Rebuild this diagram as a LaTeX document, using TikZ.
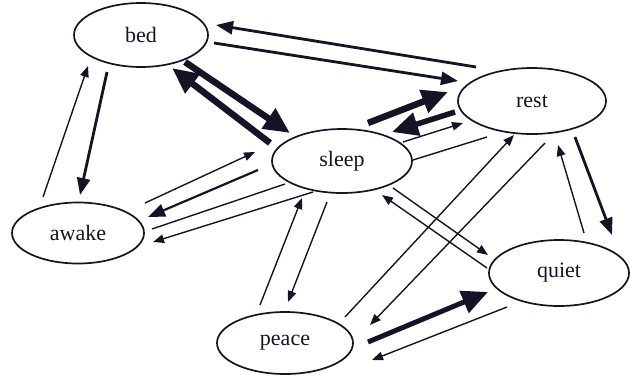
\documentclass[tikz,border=0pt]{standalone}
\usepackage{fontspec}
\setmainfont{Liberation Serif}
\usetikzlibrary{arrows.meta,shapes.geometric}
\definecolor{ink}{HTML}{141426}
\tikzset{
  state/.style={ellipse,draw=ink,line width=1.7pt,inner sep=0pt,font=\fontsize{22}{25}\selectfont,text=ink},
  thinarr/.style={draw=ink,line width=1.4pt,-{Triangle[length=11pt,width=8.5pt]}},
  medarr/.style={draw=ink,line width=2.8pt,-{Triangle[length=17pt,width=13pt]}},
  bigarr/.style={draw=ink,line width=6.5pt,-{Triangle[length=26pt,width=23pt]}},
  plainln/.style={draw=ink,line width=1.4pt}
}
\begin{document}
\begin{tikzpicture}[x=1pt,y=-1pt]
\useasboundingbox (0,0) rectangle (630,381);
\node[state,minimum width=134pt,minimum height=64pt] (bed) at (141,35) {bed};
\node[state,minimum width=148pt,minimum height=66pt] (rest) at (532,101) {rest};
\node[state,minimum width=140pt,minimum height=64pt] (sleep) at (342,161) {sleep};
\node[state,minimum width=132pt,minimum height=61pt] (awake) at (78,233) {awake};
\node[state,minimum width=136pt,minimum height=62pt] (peace) at (285,343) {peace};
\node[state,minimum width=140pt,minimum height=66pt] (quiet) at (559,273) {quiet};
% bed - rest
\draw[medarr] ([shift={(-56,-34)}]rest.center) -- ([shift={(75,-10)}]bed.center);
\draw[medarr] ([shift={(73,8)}]bed.center) -- ([shift={(-74,-20)}]rest.center);
% bed - sleep
\draw[bigarr] ([shift={(44,27)}]bed.center) -- ([shift={(-52,-28)}]sleep.center);
\draw[bigarr] ([shift={(-72,-18)}]sleep.center) -- ([shift={(31,33)}]bed.center);
% sleep - rest
\draw[bigarr] ([shift={(26,-38)}]sleep.center) -- ([shift={(-84,-9)}]rest.center);
\draw[bigarr,line width=5.5pt] ([shift={(-77,11)}]rest.center) -- ([shift={(50,-29)}]sleep.center);
\draw[thinarr] ([shift={(61,-19)}]sleep.center) -- ([shift={(-69,22)}]rest.center);
\draw[plainln] ([shift={(71,-1)}]sleep.center) -- ([shift={(-45,36)}]rest.center);
% bed - awake
\draw[medarr] ([shift={(-34,37)}]bed.center) -- ([shift={(2,-38)}]awake.center);
\draw[thinarr] ([shift={(-35,-36)}]awake.center) -- ([shift={(-53,31)}]bed.center);
% awake - sleep
\draw[thinarr] ([shift={(67,-30)}]awake.center) -- ([shift={(-87,-9)}]sleep.center);
\draw[medarr,line width=2.2pt] ([shift={(-84,9)}]sleep.center) -- ([shift={(70,-16)}]awake.center);
\draw[plainln] ([shift={(-57,23)}]sleep.center) -- ([shift={(74,-4)}]awake.center);
\draw[thinarr] ([shift={(-29,31)}]sleep.center) -- ([shift={(75,9)}]awake.center);
% peace - sleep
\draw[thinarr] ([shift={(-25,-38)}]peace.center) -- ([shift={(-40,37)}]sleep.center);
\draw[thinarr] ([shift={(-15,41)}]sleep.center) -- ([shift={(3,-41)}]peace.center);
% sleep - quiet
\draw[thinarr] ([shift={(51,27)}]sleep.center) -- ([shift={(-71,-18)}]quiet.center);
\draw[thinarr] ([shift={(-72,-5)}]quiet.center) -- ([shift={(40,34)}]sleep.center);
% peace - rest
\draw[thinarr] ([shift={(60,-26)}]peace.center) -- ([shift={(-18,34)}]rest.center);
\draw[thinarr] ([shift={(13,42)}]rest.center) -- ([shift={(85,-18)}]peace.center);
% peace - quiet
\draw[bigarr,line width=5pt] ([shift={(83,-1)}]peace.center) -- ([shift={(-71,19)}]quiet.center);
\draw[thinarr] ([shift={(-52,34)}]quiet.center) -- ([shift={(87,17)}]peace.center);
% quiet - rest
\draw[thinarr] ([shift={(25,-40)}]quiet.center) -- ([shift={(26,44)}]rest.center);
\draw[medarr] ([shift={(43,36)}]rest.center) -- ([shift={(53,-38)}]quiet.center);
\end{tikzpicture}
\end{document}
